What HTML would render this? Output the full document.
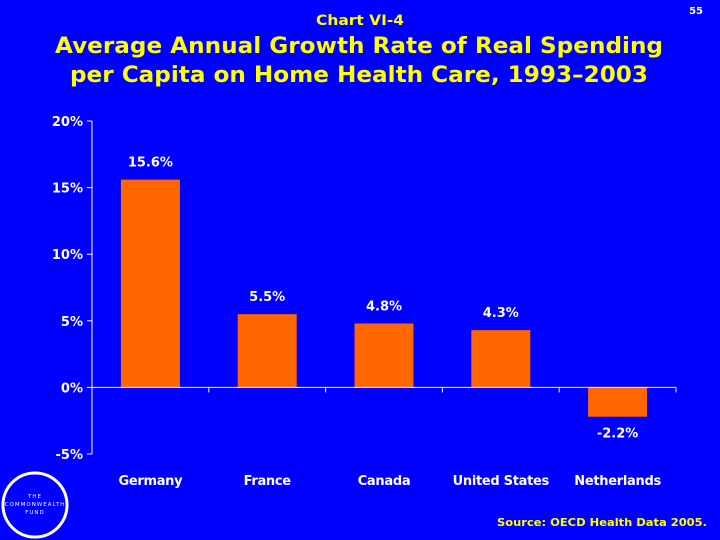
<!DOCTYPE html>
<html><head><meta charset="utf-8"><style>
body{margin:0;width:720px;height:540px;background:#0000ff;overflow:hidden;font-family:"DejaVu Sans",sans-serif}
svg{display:block}
</style></head><body>
<svg width="720" height="540">
<text x="316" y="25" textLength="88" lengthAdjust="spacingAndGlyphs" fill="#ffff00" font-size="14" font-weight="bold">Chart VI-4</text>
<text x="703" y="14" fill="#ffffff" font-size="10" font-weight="bold" text-anchor="end">55</text>
<text x="55" y="53" textLength="608" lengthAdjust="spacingAndGlyphs" fill="#ffff00" font-size="22" font-weight="bold">Average Annual Growth Rate of Real Spending</text>
<text x="70" y="82" textLength="578" lengthAdjust="spacingAndGlyphs" fill="#ffff00" font-size="22" font-weight="bold">per Capita on Home Health Care, 1993–2003</text>
<g id="plot"></g>
<g>
<circle cx="35" cy="505" r="32" fill="none" stroke="#fff" stroke-width="3"/>
<text x="35" y="498" fill="#fff" font-size="5.5" text-anchor="middle" letter-spacing="1">THE</text>
<text x="35" y="506" fill="#fff" font-size="5.5" text-anchor="middle" letter-spacing="1">COMMONWEALTH</text>
<text x="35" y="514" fill="#fff" font-size="5.5" text-anchor="middle" letter-spacing="1">FUND</text>
</g>
<text x="497" y="526" textLength="210" lengthAdjust="spacingAndGlyphs" fill="#ffff00" font-size="11" font-weight="bold">Source: OECD Health Data 2005.</text>
</svg>
<script>
const categories=["Germany","France","Canada","United States","Netherlands"];
const values=[15.6,5.5,4.8,4.3,-2.2];
const valueLabels=["15.6%","5.5%","4.8%","4.3%","-2.2%"];
const yTicks=[-5,0,5,10,15,20];
const NS="http://www.w3.org/2000/svg";
const g=document.getElementById("plot");
const x0=92,x1=676,yTop=121,yBot=454,vMin=-5,vMax=20;
const y=v=>yBot-(v-vMin)/(vMax-vMin)*(yBot-yTop);
const band=(x1-x0)/categories.length;
const xc=i=>x0+band*(i+0.5);
function el(t,a){const e=document.createElementNS(NS,t);for(const k in a)e.setAttribute(k,a[k]);g.appendChild(e);return e;}
let ax=el("line",{x1:x0,y1:yTop,x2:x0,y2:yBot,stroke:"#fff","stroke-width":1});


yTicks.forEach(t=>{
 el("line",{x1:x0-5,y1:y(t),x2:x0,y2:y(t),stroke:"#fff"});
 const tx=el("text",{x:x0-9,y:y(t)+5,fill:"#fff","font-size":13,"font-weight":"bold","text-anchor":"end"});
 tx.textContent=t+"%";
 
 
});
categories.forEach((c,i)=>{
 const v=values[i];
 const bw=59;
 const r=el("rect",{x:xc(i)-bw/2,y:Math.min(y(v),y(0)),width:bw,height:Math.abs(y(v)-y(0)),fill:"#ff6600"});
 
 
 const lab=el("text",{x:xc(i),y:v>=0?y(v)-13:y(v)+21,fill:"#fff","font-size":13,"font-weight":"bold","text-anchor":"middle"});
 lab.textContent=valueLabels[i];
 
 
 const cl=el("text",{x:xc(i),y:485,fill:"#fff","font-size":13,"font-weight":"bold","text-anchor":"middle","letter-spacing":"-0.3"});
 cl.textContent=c;
 
 
});
for(let i=0;i<=categories.length;i++){el("line",{x1:x0+band*i,y1:y(0),x2:x0+band*i,y2:y(0)+5,stroke:"#fff"});}
const xa=el("line",{x1:x0,y1:y(0),x2:x1,y2:y(0),stroke:"#fff","stroke-width":1});


</script>
</body></html>
